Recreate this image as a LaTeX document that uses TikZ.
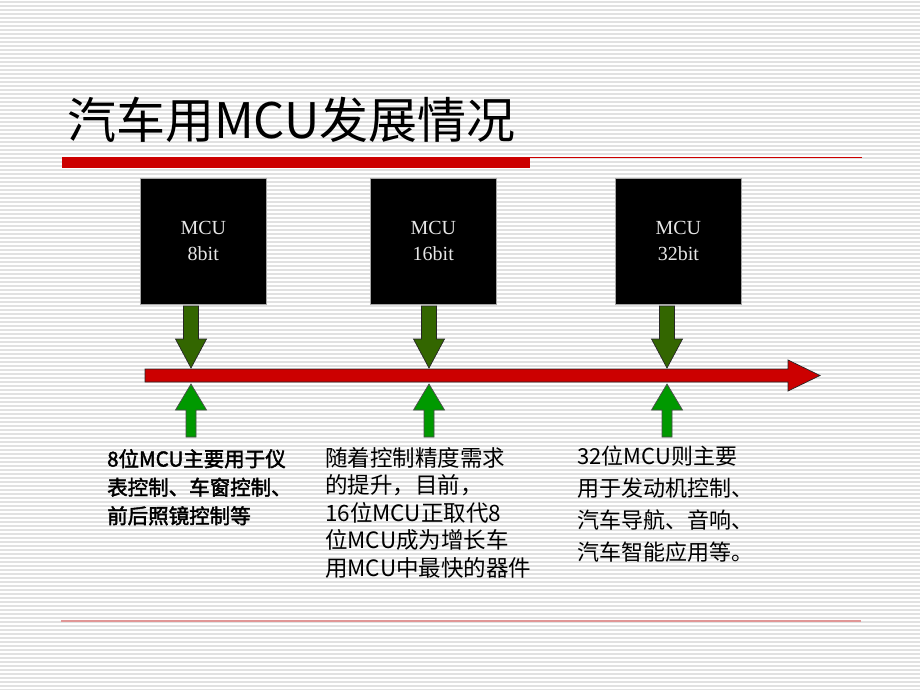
\documentclass[tikz,border=0pt]{standalone}
\usepackage{fontspec}
\setmainfont{Liberation Serif}
\newfontfamily\cjk{Noto Sans CJK SC}
\newfontfamily\cjkfb{Noto Sans CJK SC}[FakeBold=2]
\newfontfamily\tnr{Liberation Serif}
\definecolor{stripe}{RGB}{225,225,225}
\definecolor{barred}{RGB}{204,0,0}
\definecolor{palered}{RGB}{224,150,150}
\definecolor{darkgreen}{RGB}{51,102,0}
\definecolor{brightgreen}{RGB}{0,153,0}
\definecolor{boxtext}{RGB}{230,230,230}
\tikzset{
  stripeline/.style={draw=stripe, line width=1.1pt},
  mcubox/.style={draw=gray!70, line width=0.6pt, fill=black, text=boxtext,
    minimum width=126pt, minimum height=126pt, anchor=north west, inner sep=0pt,
    align=center, font=\tnr\fontsize{20}{26}\selectfont},
  downarrow/.style={fill=darkgreen, draw=black!85, line width=0.7pt, line join=miter},
  uparrow/.style={fill=brightgreen, draw=black!70, line width=0.7pt, line join=miter},
  timeline/.style={fill=barred, draw=black!85, line width=0.7pt, line join=miter},
  textblock/.style={anchor=north west, inner sep=0pt, align=left, text=black}
}
\begin{document}
\begin{tikzpicture}[x=1pt,y=-1pt]
\useasboundingbox (0,0) rectangle (920,690);
\fill[white] (0,0) rectangle (920,690);
\foreach \y in {2,6,...,690} \draw[stripeline] (0,\y) -- (920,\y);

% title
\node[anchor=base west, inner sep=0pt, font=\cjk\fontsize{49}{52}\selectfont] (title) at (67,138) {汽车用MCU发展情况};
\fill[barred] (62,157) rectangle (530,168);
\draw[barred, line width=1pt] (530,157.5) -- (862,157.5);

% bottom rule
\draw[palered, line width=2pt] (61,620.5) -- (861,620.5);

% MCU boxes
\node[mcubox] (m8) at (140,178) {MCU\\8bit};
\node[mcubox] (m16) at (370,178) {MCU\\16bit};
\node[mcubox] (m32) at (615,178) {MCU\\32bit};

% timeline arrow
\draw[timeline] (145,369) -- (788,369) -- (788,360) -- (820,375.5) -- (788,391) -- (788,382) -- (145,382) -- cycle;

% down arrows (dark green) and up arrows (bright green)
\foreach \cx in {191,429,667}{
  \draw[downarrow] (\cx-7.5,306) -- (\cx+7.5,306) -- (\cx+7.5,339) -- (\cx+15.5,339) -- (\cx,368) -- (\cx-15.5,339) -- (\cx-7.5,339) -- cycle;
  \draw[uparrow] (\cx-5,437) -- (\cx+5,437) -- (\cx+5,410) -- (\cx+15.5,410) -- (\cx,384) -- (\cx-15.5,410) -- (\cx-5,410) -- cycle;
}

% text blocks
\node[textblock, font=\cjkfb\fontsize{20.5}{28.5}\selectfont] (t8) at (107,449) {8位MCU主要用于仪\\表控制、车窗控制、\\前后照镜控制等};
\node[textblock, font=\cjk\fontsize{22.5}{27.5}\selectfont] (t16) at (325,447) {随着控制精度需求\\的提升，目前，\\16位MCU正取代8\\位MCU成为增长车\\用MCU中最快的器件};
\node[textblock, font=\cjk\fontsize{22}{32}\selectfont] (t32) at (577,446) {32位MCU则主要\\用于发动机控制、\\汽车导航、音响、\\汽车智能应用等。};
\end{tikzpicture}
\end{document}
